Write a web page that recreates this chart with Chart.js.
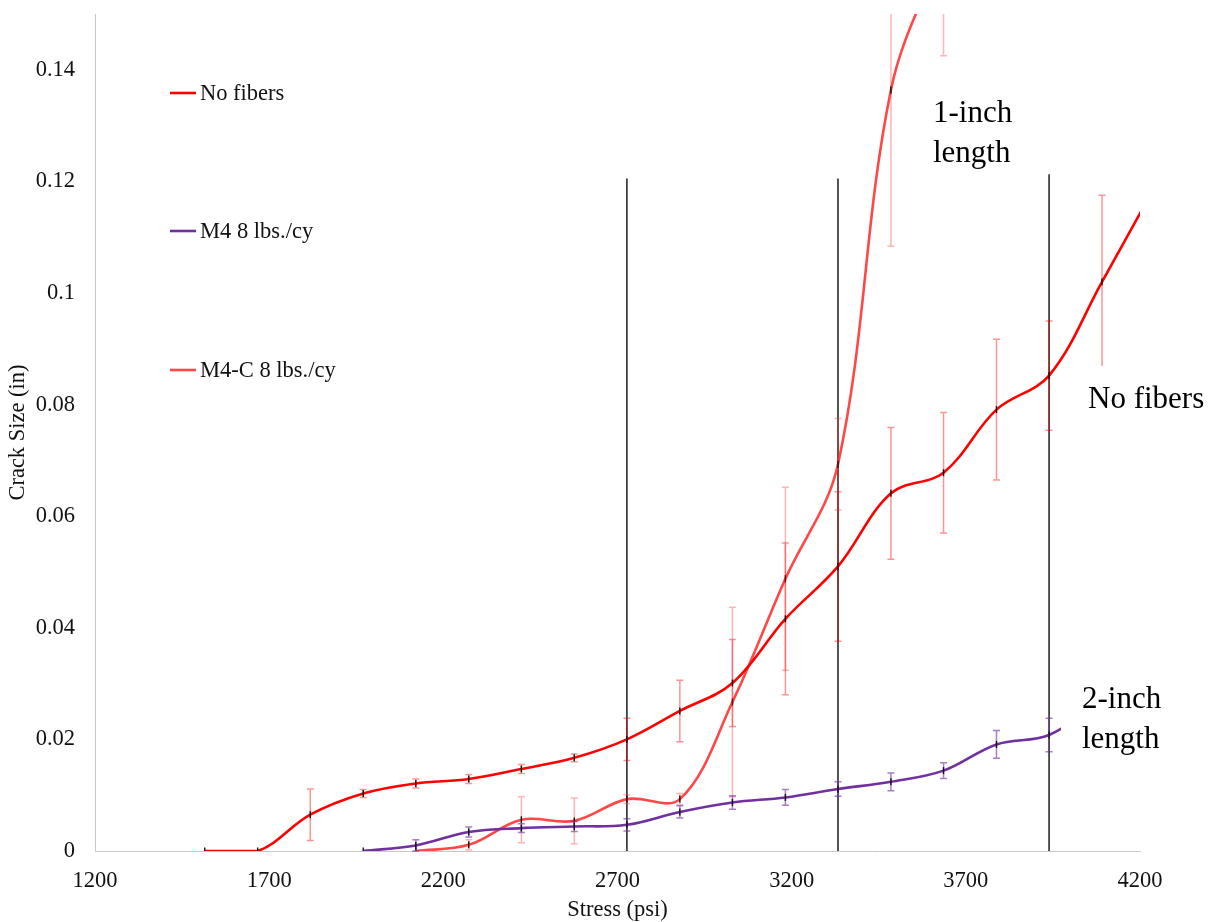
<!DOCTYPE html>
<html>
<head>
<meta charset="utf-8">
<title>Crack Size vs Stress</title>
<script src="https://cdn.jsdelivr.net/npm/chart.js@4.4.1/dist/chart.umd.min.js"></script>
<style>
  html, body { margin: 0; padding: 0; background: #ffffff; }
  #wrap { width: 1215px; height: 922px; }
</style>
</head>
<body>
<div id="wrap"><canvas id="chart" width="1215" height="922"></canvas></div>
<script>
// Applied stress levels (psi)
const stressPsi = [1515, 1667, 1818, 1970, 2121, 2273, 2424, 2576, 2727, 2879, 3030, 3182, 3333, 3485, 3636, 3788, 3939, 4091, 4242];

// Mean crack size (in) and the +/- spread at each stress level
const noFibers    = [0, 0, 0.0065, 0.0103, 0.0121, 0.0129, 0.0147, 0.0167, 0.0200, 0.0251, 0.0301, 0.0416, 0.0510, 0.0641, 0.0678, 0.0791, 0.0852, 0.1020, 0.1190];
const noFibersErr = [0, 0, 0.0046, 0.0007, 0.0008, 0.0008, 0.0008, 0.0007, 0.0038, 0.0055, 0.0078, 0.0136, 0.0134, 0.0118, 0.0108, 0.0126, 0.0098, 0.0155, 0.0150];

const m4    = [null, null, null, 0, 0.0010, 0.0034, 0.0041, 0.0044, 0.0047, 0.0070, 0.0087, 0.0096, 0.0111, 0.0124, 0.0144, 0.0191, 0.0208, 0.0270, null];
const m4Err = [null, null, null, 0, 0.0010, 0.0009, 0.0008, 0.0009, 0.0011, 0.0011, 0.0012, 0.0014, 0.0013, 0.0016, 0.0014, 0.0025, 0.0030, 0.0030, null];

const m4c    = [null, null, null, null, 0, 0.0011, 0.0056, 0.0054, 0.0093, 0.0093, 0.0267, 0.0488, 0.0693, 0.1364, 0.1620, null, null, null, null];
const m4cErr = [null, null, null, null, 0, 0.0009, 0.0041, 0.0041, 0.0008, 0.0010, 0.0170, 0.0164, 0.0082, 0.0280, 0.0195, null, null, null, null];

// Series names
const seriesNames = ['No fibers', 'M4 8 lbs./cy', 'M4-C 8 lbs./cy'];

// Vertical marker lines (stress, and the crack size they reach)
const dividerStress = [2727, 3333, 3939];
const dividerTop    = [0.1205, 0.1205, 0.1213];

// Axis tick settings
const xTickMin = 1200, xTickMax = 4200, xTickStep = 500;
const yTickMin = 0, yTickMax = 0.15, yTickStep = 0.02;

const SERIF = '"Liberation Serif", "Times New Roman", Times, serif';

function buildPoints(values, errors) {
  const pts = [], errs = [];
  values.forEach((v, i) => {
    if (v === null) return;
    pts.push({ x: stressPsi[i], y: v });
    errs.push(errors[i]);
  });
  return { pts, errs };
}

const nf = buildPoints(noFibers, noFibersErr);
const s4 = buildPoints(m4, m4Err);
const s4c = buildPoints(m4c, m4cErr);

function seriesDataset(label, built, color, errColor) {
  return {
    label: label,
    data: built.pts,
    errorBars: built.errs,
    errorColor: errColor,
    borderColor: color,
    backgroundColor: color,
    borderWidth: 2.6,
    tension: 0.36,
    pointStyle: 'line',
    pointRotation: 90,
    pointRadius: 3.5,
    pointBorderColor: '#111111',
    pointBorderWidth: 1.4,
    order: 0,
    inLegend: true
  };
}

const datasets = [
  seriesDataset(seriesNames[0], nf, '#ff0000', 'rgba(255,0,0,0.42)'),
  seriesDataset(seriesNames[1], s4, '#7030a0', 'rgba(112,48,160,0.62)'),
  seriesDataset(seriesNames[2], s4c, 'rgba(255,45,45,0.88)', 'rgba(255,50,50,0.36)')
];

dividerStress.forEach((sx, i) => {
  datasets.push({
    label: '',
    data: [{ x: sx, y: 0 }, { x: sx, y: dividerTop[i] }],
    borderColor: '#1c1c1c',
    borderWidth: 1.5,
    pointRadius: 0,
    tension: 0,
    order: 1,
    inLegend: false
  });
});

// Error bars drawn just before each series so the curve and markers sit on top
const errorBarPlugin = {
  id: 'errorBars',
  beforeDatasetDraw(chart, args) {
    const ds = chart.data.datasets[args.index];
    if (!ds.errorBars) return;
    const { ctx, chartArea } = chart;
    const xs = chart.scales.x, ys = chart.scales.y;
    ctx.save();
    ctx.beginPath();
    ctx.rect(chartArea.left, chartArea.top, chartArea.right - chartArea.left, chartArea.bottom - chartArea.top + 1);
    ctx.clip();
    ctx.strokeStyle = ds.errorColor;
    ctx.lineWidth = 1.5;
    const cap = 3.5;
    ds.data.forEach((p, i) => {
      const e = ds.errorBars[i];
      if (!e) return;
      const px = xs.getPixelForValue(p.x);
      const yTop = ys.getPixelForValue(p.y + e);
      const yBot = ys.getPixelForValue(p.y - e);
      ctx.beginPath();
      ctx.moveTo(px, yTop); ctx.lineTo(px, yBot);
      ctx.moveTo(px - cap, yTop); ctx.lineTo(px + cap, yTop);
      ctx.moveTo(px - cap, yBot); ctx.lineTo(px + cap, yBot);
      ctx.stroke();
    });
    ctx.restore();
  }
};

// Legend entries stacked down the left side of the plot
const sideLegendPlugin = {
  id: 'sideLegend',
  afterDatasetsDraw(chart, args, opts) {
    const { ctx } = chart;
    const items = chart.data.datasets.filter(d => d.inLegend);
    ctx.save();
    ctx.font = opts.fontSize + 'px ' + SERIF;
    ctx.textBaseline = 'middle';
    ctx.textAlign = 'left';
    items.forEach((d, i) => {
      const y = opts.rows[i];
      ctx.strokeStyle = d.borderColor;
      ctx.lineWidth = 2.6;
      ctx.beginPath();
      ctx.moveTo(opts.x, y);
      ctx.lineTo(opts.x + opts.lineLength, y);
      ctx.stroke();
      ctx.fillStyle = '#111111';
      ctx.fillText(d.label, opts.x + opts.lineLength + 4, y + 1);
    });
    ctx.restore();
  }
};

// Free-standing text notes; boxed ones have a white fill behind them
const notesPlugin = {
  id: 'notes',
  afterDatasetsDraw(chart, args, opts) {
    const { ctx } = chart;
    ctx.save();
    opts.items.forEach(n => {
      if (n.box) {
        ctx.fillStyle = '#ffffff';
        ctx.fillRect(n.box[0], n.box[1], n.box[2], n.box[3]);
      }
      ctx.fillStyle = '#000000';
      ctx.font = opts.fontSize + 'px ' + SERIF;
      ctx.textAlign = 'left';
      ctx.textBaseline = 'alphabetic';
      n.lines.forEach((t, i) => ctx.fillText(t, n.x, n.baselines[i]));
    });
    ctx.restore();
  }
};

const tickFont = { family: SERIF, size: 22.5 };

new Chart(document.getElementById('chart'), {
  type: 'line',
  data: { datasets: datasets },
  plugins: [errorBarPlugin, sideLegendPlugin, notesPlugin],
  options: {
    responsive: false,
    animation: false,
    devicePixelRatio: 1,
    layout: { padding: { top: 14, right: 75, left: 0, bottom: 0 } },
    plugins: {
      legend: { display: false },
      tooltip: { enabled: false },
      sideLegend: { x: 170, lineLength: 26, rows: [93, 231, 370], fontSize: 22.5 },
      notes: {
        fontSize: 31,
        items: [
          { lines: ['1-inch', 'length'], x: 933, baselines: [122, 162] },
          { lines: ['No fibers'], x: 1088, baselines: [408], box: [1076, 366, 139, 52] },
          { lines: ['2-inch', 'length'], x: 1082, baselines: [708, 748], box: [1061, 672, 124, 92] }
        ]
      }
    },
    scales: {
      x: {
        type: 'linear',
        min: xTickMin,
        max: xTickMax,
        ticks: {
          stepSize: xTickStep,
          padding: 17,
          color: '#111111',
          font: tickFont,
          callback: v => String(v)
        },
        grid: { display: false, drawTicks: false },
        border: { display: true, color: '#c8c8c8', width: 1 },
        title: {
          display: true,
          text: 'Stress (psi)',
          color: '#111111',
          font: tickFont,
          padding: { top: 0, bottom: -2 }
        },
        afterFit(scale) { scale.height = 71; }
      },
      y: {
        type: 'linear',
        min: yTickMin,
        max: yTickMax,
        ticks: {
          stepSize: yTickStep,
          padding: 20,
          color: '#111111',
          font: tickFont,
          callback: v => String(+v.toFixed(2))
        },
        afterBuildTicks(scale) {
          scale.ticks = scale.ticks.filter(t => {
            const k = t.value / yTickStep;
            return Math.abs(k - Math.round(k)) < 1e-6;
          });
        },
        grid: { display: false, drawTicks: false },
        border: { display: true, color: '#c8c8c8', width: 1 },
        title: {
          display: true,
          text: 'Crack Size (in)',
          color: '#111111',
          font: tickFont,
          padding: { top: 5, bottom: 0 }
        },
        afterFit(scale) {
          scale.width = 95;
          scale.paddingTop = 0;
          scale.paddingBottom = 0;
        }
      }
    }
  }
});
</script>
</body>
</html>
